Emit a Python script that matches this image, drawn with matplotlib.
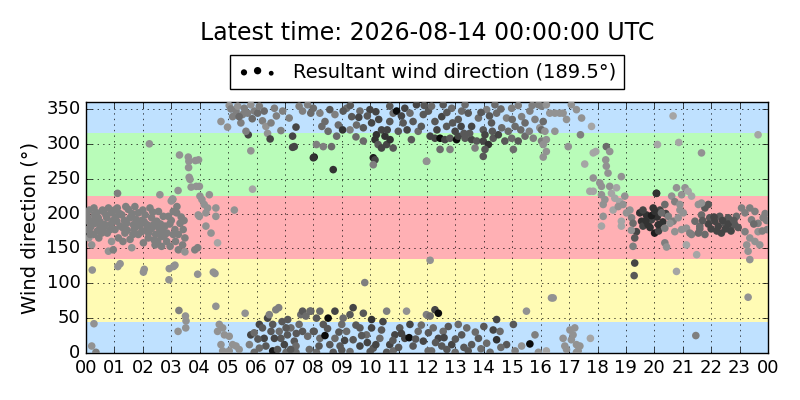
import numpy as np
import matplotlib.pyplot as plt

plt.style.use('classic')

# (hour of day, wind direction in degrees, wind speed class)
night = [
    (0.28, 208, 3), (0.02, 201, 3), (0.32, 186, 3), (0.14, 179, 3), (0.43, 194, 3),
    (0.61, 203, 3), (0.79, 208, 3), (0.90, 201, 3), (0.67, 184, 3), (0.85, 177, 3),
    (0.55, 172, 3), (0.26, 170, 3), (0.20, 155, 2), (0.79, 146, 2), (0.96, 148, 3),
    (1.08, 189, 3), (1.26, 198, 3), (1.31, 179, 3), (1.55, 194, 3), (1.67, 184, 3),
    (1.72, 210, 3), (1.84, 201, 3), (1.55, 163, 3), (1.96, 174, 3), (1.61, 151, 2),
    (2.13, 177, 3), (2.25, 208, 3), (2.31, 194, 3), (2.37, 184, 3), (2.49, 189, 3),
    (2.60, 174, 3), (2.66, 167, 3), (2.78, 182, 3), (2.84, 160, 3), (2.96, 153, 3),
    (2.66, 153, 3), (2.43, 155, 3), (2.02, 158, 3), (2.19, 165, 3), (3.07, 170, 3),
    (3.19, 201, 3), (3.31, 186, 3), (3.42, 177, 3), (3.48, 165, 3), (3.25, 148, 3),
    (3.48, 145, 2), (3.07, 203, 3), (3.05, 220, 3), (3.13, 177, 3), (2.90, 196, 3),
    (1.14, 165, 3), (1.37, 172, 3), (0.49, 179, 3), (0.08, 189, 3), (0.02, 177, 3),
    (0.38, 201, 3), (1.49, 206, 3), (2.08, 198, 3), (2.55, 203, 3), (2.72, 196, 3),
    (1.84, 170, 3), (1.20, 182, 3), (0.73, 194, 3), (1.02, 177, 3), (1.43, 186, 3),
    (0.05, 195, 3), (0.18, 182, 3), (0.40, 175, 3), (0.70, 198, 3), (1.00, 205, 3),
    (1.95, 190, 3), (2.20, 172, 3), (2.55, 180, 3), (2.75, 168, 3), (3.35, 195, 3),
    (0.10, 165, 2), (0.95, 190, 3), (1.75, 192, 3), (2.45, 170, 3), (1.30, 160, 3),
    (0.12, 205, 3), (0.35, 193, 3), (0.50, 188, 3), (0.62, 180, 3), (0.75, 172, 3),
    (0.88, 185, 3), (1.05, 195, 3), (1.18, 200, 3), (1.35, 190, 3), (1.45, 176, 3),
    (1.62, 200, 3), (1.70, 178, 3), (1.90, 182, 3), (2.05, 188, 3), (2.15, 184, 3),
    (2.30, 178, 3), (2.40, 162, 3), (2.52, 160, 3), (2.62, 185, 3), (2.70, 178, 3),
    (2.85, 172, 3), (2.95, 185, 3), (3.15, 160, 3), (3.25, 170, 3), (3.40, 155, 3),
    (0.45, 165, 3), (0.90, 160, 2), (1.65, 170, 3), (0.30, 198, 3), (1.10, 208, 3),
    (2.00, 205, 3), (0.58, 205, 3), (1.40, 210, 3), (0.25, 190, 3), (1.80, 188, 3),
    (2.35, 202, 3), (3.00, 190, 3), (3.20, 210, 3), (3.45, 190, 3), (0.15, 170, 3),
    (3.83, 148, 3), (3.95, 198, 2),
    (2.23, 300, 2), (1.11, 229, 3), (0.22, 119, 2), (1.12, 124, 2), (1.20, 128, 2),
    (2.05, 120, 2), (2.02, 116, 2), (2.93, 121, 2), (2.92, 105, 2), (3.08, 124, 2),
    (3.13, 126, 2), (0.28, 42, 2), (0.20, 10, 2), (0.35, 1, 3), (3.27, 61, 3),
    (3.50, 53, 2), (3.52, 46, 2), (3.51, 36, 2), (3.24, 31, 2), (3.29, 284, 2),
    (3.60, 281, 2), (3.62, 275, 2), (3.85, 276, 2), (3.61, 266, 2), (3.63, 252, 2),
    (3.66, 249, 2), (3.70, 238, 2), (3.88, 239, 2), (3.24, 233, 2), (2.60, 227, 2),
    (3.00, 218, 2), (3.05, 221, 2),
]

morning = [
    (3.96, 277, 2), (3.99, 239, 2), (4.01, 225, 2), (4.08, 220, 2), (4.16, 213, 2),
    (4.28, 208, 2), (4.34, 227, 2), (4.22, 201, 2), (3.99, 196, 2), (4.57, 208, 2),
    (4.57, 196, 2), (4.22, 182, 2), (4.40, 172, 2), (4.63, 158, 1), (5.22, 205, 2),
    (3.93, 151, 3), (3.93, 113, 2), (4.48, 116, 2), (4.54, 114, 2), (4.57, 67, 2),
    (5.60, 57, 2), (5.80, 290, 2), (5.86, 235, 1),
    (4.75, 332, 2), (4.98, 324, 2), (5.16, 339, 3), (5.28, 347, 3), (5.45, 330, 3),
    (5.51, 342, 3), (5.69, 344, 3), (5.71, 313, 6), (5.63, 318, 3), (5.92, 347, 3),
    (6.04, 344, 4), (6.21, 333, 3), (6.33, 325, 2), (6.39, 315, 2), (6.51, 330, 3),
    (6.48, 307, 6), (6.86, 319, 3), (6.92, 347, 3), (5.80, 356, 2), (5.34, 354, 2),
    (5.04, 355, 2), (6.63, 351, 3), (6.27, 347, 4), (5.39, 339, 4), (5.57, 351, 3),
    (6.10, 354, 3), (7.15, 337, 3), (7.39, 324, 6), (7.27, 295, 6), (7.33, 296, 6),
    (7.27, 311, 6), (7.62, 347, 3), (7.80, 356, 3), (7.91, 344, 4), (7.50, 354, 3),
    (8.03, 281, 8), (5.10, 350, 3), (6.70, 340, 3), (5.85, 336, 4),
    (4.69, 41, 2), (4.81, 36, 2), (4.87, 26, 2), (5.04, 24, 2), (5.16, 12, 2),
    (5.28, 10, 2), (5.39, 5, 2), (4.75, 12, 2), (4.81, 3, 2), (5.04, 3, 2),
    (4.63, 31, 2), (5.75, 12, 3), (5.80, 26, 6), (5.92, 29, 4), (6.10, 41, 6),
    (6.21, 36, 5), (6.39, 50, 6), (6.45, 55, 3), (6.68, 62, 3), (6.78, 65, 3),
    (6.80, 31, 4), (6.86, 21, 5), (6.98, 12, 6), (7.09, 26, 5), (7.21, 36, 4),
    (7.33, 17, 5), (7.39, 10, 4), (7.56, 55, 4), (7.62, 60, 5), (7.74, 53, 4),
    (7.91, 60, 5), (7.62, 31, 5), (7.80, 24, 4), (8.03, 31, 5), (6.33, 10, 5),
    (6.57, 3, 8), (6.10, 7, 4), (5.92, 1, 4), (6.74, 5, 5), (7.04, 1, 4),
    (7.39, 1, 4), (7.86, 5, 4), (6.27, 21, 6), (6.51, 31, 5), (6.63, 21, 6),
    (7.04, 36, 5), (7.50, 41, 4), (6.57, 41, 5), (6.05, 20, 5), (7.20, 5, 5),
    (7.10, 48, 5), (6.90, 45, 5), (7.40, 28, 5),
]

midday = [
    (8.00, 351, 4), (8.23, 344, 3), (8.41, 332, 4), (8.58, 349, 5), (8.76, 342, 3),
    (8.88, 327, 4), (9.03, 320, 7), (9.17, 351, 4), (9.35, 339, 5), (9.52, 327, 4),
    (9.76, 323, 5), (10.05, 330, 6), (10.17, 306, 7), (10.22, 313, 7), (10.28, 299, 5),
    (10.11, 280, 8), (10.17, 277, 6), (10.11, 270, 3), (10.40, 320, 6), (10.52, 311, 7),
    (10.69, 332, 5), (10.81, 344, 4), (10.93, 347, 9), (10.99, 318, 5), (11.16, 330, 5),
    (11.22, 351, 6), (11.40, 344, 4), (11.51, 332, 5), (11.69, 318, 4), (11.87, 342, 5),
    (11.98, 275, 2), (8.11, 299, 3), (8.35, 296, 3), (8.64, 296, 4), (8.70, 263, 7),
    (8.00, 280, 7), (9.05, 347, 5), (9.64, 347, 4), (9.99, 349, 6), (10.69, 354, 5),
    (11.63, 356, 6), (8.52, 318, 4), (8.82, 311, 4), (9.29, 320, 3), (9.76, 304, 4),
    (10.81, 294, 5), (10.58, 299, 6), (10.40, 294, 6), (10.30, 335, 6), (11.30, 320, 6),
    (9.30, 355, 5), (9.60, 338, 6), (9.90, 340, 5), (10.20, 346, 6), (10.60, 320, 6),
    (10.70, 306, 7), (11.10, 340, 6), (11.45, 306, 5), (11.80, 325, 5), (11.90, 355, 5),
    (9.50, 310, 4), (8.30, 325, 4),
    (9.81, 101, 3),
    (7.88, 60, 4), (8.11, 50, 5), (8.23, 60, 4), (8.52, 50, 9), (8.76, 60, 6),
    (9.00, 41, 4), (9.29, 55, 5), (9.40, 65, 6), (9.76, 57, 5), (10.05, 48, 7),
    (10.58, 60, 3), (11.28, 60, 2), (8.00, 31, 5), (8.23, 21, 4), (8.41, 25, 9),
    (8.58, 12, 5), (8.76, 21, 4), (8.94, 10, 5), (9.17, 31, 4), (9.40, 19, 5),
    (9.64, 10, 6), (9.87, 26, 4), (10.05, 36, 6), (10.11, 7, 5), (10.34, 21, 4),
    (10.69, 12, 6), (10.87, 26, 6), (11.04, 36, 5), (11.22, 21, 6), (11.37, 22, 9),
    (11.51, 10, 5), (11.69, 31, 4), (11.87, 17, 6), (12.04, 3, 4), (8.11, 1, 4),
    (8.70, 1, 5), (9.29, 2, 4), (10.58, 1, 5), (10.81, 3, 4), (8.35, 41, 5),
    (9.05, 50, 4), (9.64, 36, 5), (11.40, 41, 6), (11.98, 55, 3), (9.90, 15, 6),
    (10.45, 45, 6), (11.00, 8, 5),
    (8.90, 30, 5), (9.10, 18, 6), (9.50, 40, 5), (9.70, 25, 5), (10.20, 12, 6),
    (10.40, 33, 5), (10.80, 18, 5), (11.10, 28, 6), (11.60, 20, 5), (11.80, 40, 4),
    (8.50, 35, 5), (8.20, 10, 5), (9.00, 4, 5), (10.00, 2, 5),
]

afternoon = [
    (12.11, 311, 6), (12.28, 308, 6), (12.46, 308, 9), (12.63, 306, 6), (12.81, 308, 5),
    (13.04, 306, 9), (13.10, 311, 6), (13.34, 308, 5), (13.57, 306, 6), (13.75, 304, 5),
    (13.98, 304, 6), (14.16, 299, 7), (14.33, 308, 5), (14.51, 313, 6), (14.74, 304, 5),
    (14.98, 308, 4), (15.21, 304, 5), (15.45, 311, 4), (15.74, 308, 3), (16.03, 304, 3),
    (12.46, 292, 4), (12.81, 292, 3), (13.69, 294, 3), (13.98, 282, 5), (14.04, 292, 5),
    (15.04, 292, 4), (11.99, 275, 2),
    (12.05, 347, 5), (12.28, 332, 5), (12.52, 339, 6), (12.69, 325, 5), (12.87, 351, 4),
    (13.10, 335, 5), (13.22, 347, 4), (13.45, 344, 5), (13.57, 325, 6), (13.81, 337, 4),
    (13.98, 320, 5), (14.10, 349, 3), (14.27, 330, 5), (14.45, 344, 4), (14.63, 323, 4),
    (14.80, 337, 3), (14.98, 351, 3), (15.10, 325, 4), (15.33, 339, 3), (15.45, 330, 4),
    (15.62, 347, 3), (15.80, 335, 3), (15.97, 323, 2), (12.16, 354, 4), (12.57, 356, 5),
    (13.34, 356, 4), (14.39, 356, 4), (15.21, 355, 3), (15.92, 356, 3), (12.99, 318, 6),
    (14.86, 318, 4), (14.04, 313, 6), (13.30, 315, 5), (15.60, 318, 3),
    (12.35, 320, 6), (12.70, 345, 5), (13.20, 325, 6), (13.50, 315, 5), (13.90, 345, 5),
    (14.30, 318, 5), (14.60, 350, 4), (15.00, 335, 4), (15.30, 320, 4), (15.70, 355, 3),
    (14.20, 340, 5), (12.90, 330, 5),
    (12.11, 133, 2),
    (12.28, 62, 6), (12.40, 57, 9), (12.11, 53, 4), (14.45, 48, 6), (15.50, 60, 2),
    (12.05, 29, 5), (12.22, 36, 4), (12.40, 21, 6), (12.57, 31, 4), (12.75, 38, 5),
    (12.87, 12, 6), (13.10, 41, 4), (13.22, 26, 5), (13.40, 36, 4), (13.57, 12, 5),
    (13.81, 21, 5), (14.10, 14, 4), (14.33, 33, 6), (14.45, 19, 7), (14.57, 31, 4),
    (14.80, 12, 5), (15.04, 41, 5), (15.33, 10, 2), (15.62, 13, 9), (15.80, 26, 3),
    (12.16, 3, 4), (12.52, 10, 5), (12.99, 1, 4), (13.45, 3, 5), (14.22, 1, 4),
    (15.10, 3, 3), (15.92, 1, 2),
    (12.30, 15, 5), (12.60, 22, 6), (13.00, 20, 5), (13.30, 8, 5), (13.70, 30, 4),
    (14.00, 38, 5), (14.60, 8, 4), (12.70, 5, 5), (13.90, 6, 4),
]

evening = [
    (16.03, 354, 3), (16.20, 356, 2), (16.32, 344, 2), (16.50, 344, 2), (16.67, 344, 2),
    (16.79, 344, 2), (16.91, 335, 2), (17.08, 356, 2), (17.26, 349, 2), (17.44, 337, 2),
    (17.79, 325, 1), (16.09, 332, 4), (16.03, 320, 4), (16.15, 318, 2), (16.50, 318, 2),
    (16.20, 306, 2), (16.09, 299, 2), (16.20, 289, 2), (16.09, 281, 2), (16.97, 296, 2),
    (17.40, 313, 3),
    (17.55, 271, 1), (17.85, 287, 1), (17.94, 289, 1), (18.31, 296, 4), (18.43, 289, 2),
    (18.29, 277, 2), (18.31, 268, 2), (18.37, 258, 2), (17.85, 251, 2), (18.08, 244, 2),
    (18.14, 239, 2), (18.43, 239, 2), (18.84, 253, 2), (18.67, 237, 1), (17.73, 232, 1),
    (17.85, 232, 1), (18.14, 227, 2), (18.26, 220, 2), (18.49, 229, 1), (18.61, 222, 1),
    (18.78, 217, 1), (18.96, 225, 2), (18.20, 213, 2), (18.55, 205, 1), (18.73, 210, 2),
    (18.90, 213, 2), (19.02, 201, 2), (18.84, 189, 1), (18.20, 196, 2), (18.14, 182, 1),
    (18.84, 182, 1), (19.14, 205, 2), (19.20, 194, 3),
    (19.25, 186, 4), (19.37, 174, 6), (19.49, 201, 7), (19.55, 189, 7), (19.60, 182, 6),
    (19.72, 198, 7), (19.78, 184, 7), (19.90, 191, 6), (19.96, 208, 7), (20.01, 172, 8),
    (20.07, 229, 7), (19.31, 165, 5), (19.25, 153, 3), (19.31, 129, 6), (19.29, 111, 5),
    (19.19, 176, 2), (20.10, 195, 7), (20.20, 205, 6), (20.30, 188, 7), (20.40, 200, 6),
    (20.15, 175, 6), (19.90, 197, 8), (19.70, 190, 7), (19.60, 205, 6), (19.85, 180, 7),
    (16.38, 79, 2), (16.44, 79, 2), (17.03, 33, 2), (17.14, 26, 2), (17.20, 36, 2),
    (17.26, 12, 2), (17.32, 3, 2), (16.85, 10, 2), (16.91, 5, 2), (16.79, 21, 2),
    (17.38, 10, 2), (17.08, 19, 2), (17.75, 21, 1), (16.20, 3, 1), (17.26, 1, 2),
]

late = [
    (20.66, 340, 1), (23.65, 313, 1), (20.11, 299, 1), (20.86, 302, 1), (21.66, 287, 2),
    (20.08, 229, 7), (20.78, 237, 2), (21.08, 237, 2), (21.19, 232, 1), (20.61, 225, 2),
    (20.96, 227, 2), (21.31, 225, 1), (20.37, 213, 4), (20.72, 217, 3), (20.90, 213, 2),
    (20.02, 203, 7), (20.25, 201, 4), (20.49, 196, 3), (20.66, 189, 3), (20.84, 194, 2),
    (21.02, 201, 2), (20.14, 184, 7), (20.37, 179, 3), (20.55, 186, 2), (20.72, 174, 2),
    (21.13, 179, 2), (21.25, 172, 3), (21.43, 189, 4), (21.60, 182, 4), (21.78, 208, 5),
    (21.90, 213, 5), (21.66, 198, 4), (21.95, 194, 5), (22.13, 189, 6), (22.25, 182, 6),
    (22.36, 172, 6), (22.48, 186, 5), (22.66, 177, 5), (22.83, 184, 5), (22.89, 196, 4),
    (22.30, 196, 5), (22.60, 194, 5), (23.07, 208, 3), (23.19, 201, 3), (23.36, 208, 3),
    (23.54, 203, 3), (23.42, 191, 3), (23.65, 186, 3), (23.83, 194, 3), (23.19, 174, 3),
    (23.36, 165, 2), (23.54, 160, 2), (23.25, 155, 2), (23.30, 146, 2), (23.36, 134, 2),
    (23.65, 174, 2), (23.71, 155, 2), (20.37, 158, 3), (20.43, 152, 2), (21.13, 155, 1),
    (21.49, 141, 1), (20.78, 117, 1), (23.30, 80, 2), (21.46, 25, 3), (21.78, 170, 4),
    (21.31, 170, 3), (21.55, 172, 4), (20.96, 177, 2), (20.90, 205, 2), (21.55, 213, 2),
    (21.66, 215, 2), (23.97, 177, 3), (21.90, 185, 6), (22.00, 178, 6), (22.10, 195, 6),
    (22.20, 175, 6), (22.40, 190, 6), (22.50, 178, 6), (22.60, 185, 6), (22.70, 175, 6),
    (22.80, 190, 5), (22.95, 180, 5), (21.70, 190, 5), (21.60, 178, 4), (23.90, 200, 3),
    (23.80, 175, 3), (23.95, 190, 3), (23.50, 185, 4),
]

resultant_dir = 189.5
title_text = 'Latest time: 2026-08-14 00:00:00 UTC'
hour_labels = ['%02d' % (h % 24) for h in range(25)]

# compass sectors: (lower, upper, colour)
sectors = [(0, 45, '#bfe1ff'), (45, 135, '#fffbb4'), (135, 225, '#ffb0b4'),
           (225, 315, '#b9fcb9'), (315, 360, '#bfe1ff')]

pts = np.array(night + morning + midday + afternoon + evening + late, dtype=float)
hours, direction, speed = pts[:, 0], pts[:, 1], pts[:, 2]

fig = plt.figure(figsize=(8, 4), dpi=100, facecolor='white')
ax = fig.add_axes([0.1075, 0.1175, 0.8525, 0.6275])

for lo, hi, col in sectors:
    ax.axhspan(lo, hi, color=col, lw=0, zorder=0)

ax.scatter(hours, direction, c=speed, cmap='gray_r', vmin=-3.7, vmax=9.6,
           s=30, edgecolors='none', zorder=3)

# legend proxy: plain black dots, never drawn on the axes
proxy = ax.scatter([np.nan, np.nan], [np.nan, np.nan], s=[12, 28], c='k',
                   edgecolors='none')

ax.set_xlim(0, 24)
ax.set_ylim(0, 360)
ax.set_xticks(range(25))
ax.set_xticklabels(hour_labels)
ax.set_yticks(range(0, 351, 50))
ax.tick_params(labelsize=13)
ax.grid(True, color='k', linestyle=':', zorder=2)
ax.set_ylabel('Wind direction (°)', fontsize=14)

ax.legend([proxy], ['Resultant wind direction (%.1f°)' % resultant_dir],
          loc='lower center', bbox_to_anchor=(0.5, 1.012), scatterpoints=3,
          fontsize=14, borderaxespad=0.5)
# title centred over the axes, not the figure
ax.text(0.5, 1.0 + (353 - 33 - 251) / 251.0, title_text, transform=ax.transAxes,
        ha='center', va='center', fontsize=17)

fig.savefig('out.png', dpi=100, facecolor='white')
